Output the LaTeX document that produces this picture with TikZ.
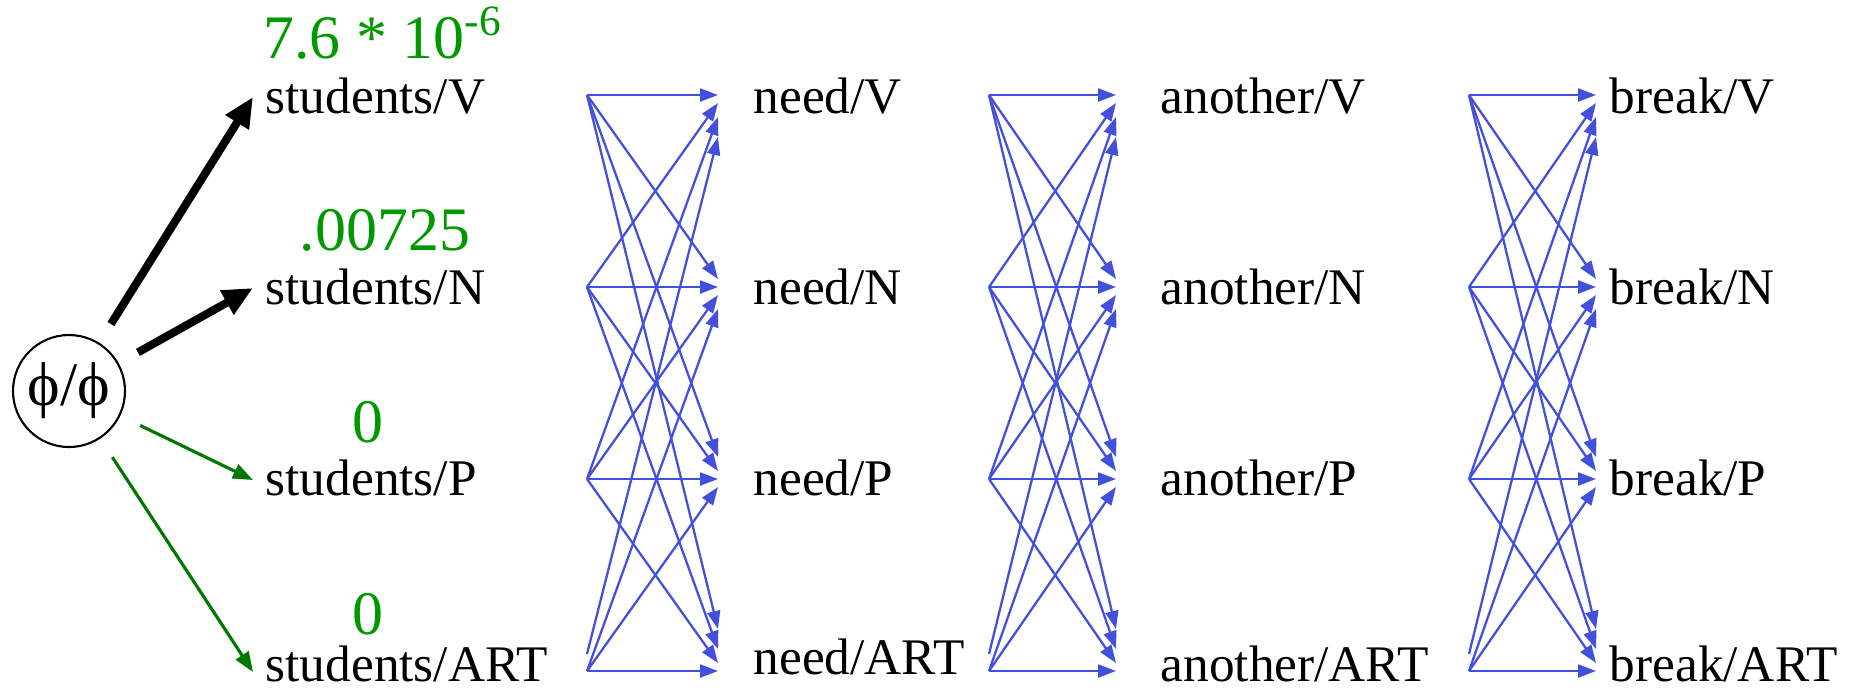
\documentclass[tikz,border=0pt]{standalone}
\usepackage{fontspec}
\newfontfamily\libserif{Liberation Serif}
\usetikzlibrary{arrows.meta}

\definecolor{probgreen}{RGB}{0,153,0}
\definecolor{darkgreen}{RGB}{0,120,0}
\definecolor{transblue}{RGB}{68,80,220}

\tikzset{
  tag/.style={anchor=base west, inner sep=0pt, font=\fontsize{14.6}{17}\selectfont\libserif},
  prob/.style={anchor=base, inner sep=0pt, text=probgreen, font=\fontsize{17.6}{20}\selectfont\libserif},
  best/.style={-{Triangle[length=0.3cm,width=0.26cm]}, line width=2.3pt, shorten <=0.22cm},
  zero/.style={-{Triangle[length=0.2cm,width=0.15cm]}, draw=darkgreen, line width=0.9pt, shorten <=0.22cm},
  trans/.style={-{Triangle[length=0.18cm,width=0.13cm]}, draw=transblue, line width=0.65pt},
}

\begin{document}
\libserif
\begin{tikzpicture}
  \useasboundingbox (0,0) rectangle (18.68,-6.89);

  % start state
  \node[circle, draw, minimum size=1.12cm, inner sep=0pt, line width=0.6pt,
        font=\fontsize{17.6}{20}\selectfont\libserif] (phi) at (0.69,-3.91) {ϕ/ϕ};

  % first column
  \coordinate (sV) at (2.53,-0.97);
  \coordinate (sN) at (2.53,-2.88);
  \coordinate (sP) at (2.53,-4.80);
  \coordinate (sA) at (2.53,-6.72);

  \draw[best] (phi) -- (sV);
  \draw[best] (phi) -- (sN);
  \draw[zero] (phi) -- (sP);
  \draw[zero] (phi) -- (sA);

  \node[prob] (pV) at (3.83,-0.58) {7.6 * 10\textsuperscript{-6}};
  \node[prob] (pN) at (3.85,-2.50) {.00725};
  \node[prob] (pP) at (3.68,-4.42) {0};
  \node[prob] (pA) at (3.68,-6.34) {0};

  % word/tag labels
  \foreach \t/\y/\yn in {V/1.13/1.13, N/3.04/3.04, P/4.95/4.95, ART/6.81/6.74} {
    \node[tag] (students\t) at (2.65,-\y) {students/\t};
    \node[tag] (need\t) at (7.53,-\yn) {need/\t};
    \node[tag] (another\t) at (11.60,-\y) {another/\t};
    \node[tag] (break\t) at (16.09,-\y) {break/\t};
  }

  % ends of the transitions
  \foreach \y [count=\r] in {0.95,2.87,4.79,6.71} {
    \foreach \xa/\xb [count=\c] in {5.87/7.18, 9.89/11.16, 14.69/15.96} {
      \coordinate (from\c\r) at (\xa,-\y);
      \coordinate (to\c\r) at (\xb,-\y);
    }
  }

  % every tag to every tag
  \foreach \c in {1,2,3}
    \foreach \i in {1,...,4}
      \foreach \j in {1,...,4} {
        \pgfmathsetmacro\off{(3*(\j-\i)*abs(\j-\i)+5*(\j-\i))/100}
        \pgfmathsetmacro\lift{(\i==4 && \j==1) ? 0.17 : 0}
        \draw[trans] ([yshift=\lift cm]from\c\i) -- ([yshift=\off cm]to\c\j);
      }
\end{tikzpicture}
\end{document}
